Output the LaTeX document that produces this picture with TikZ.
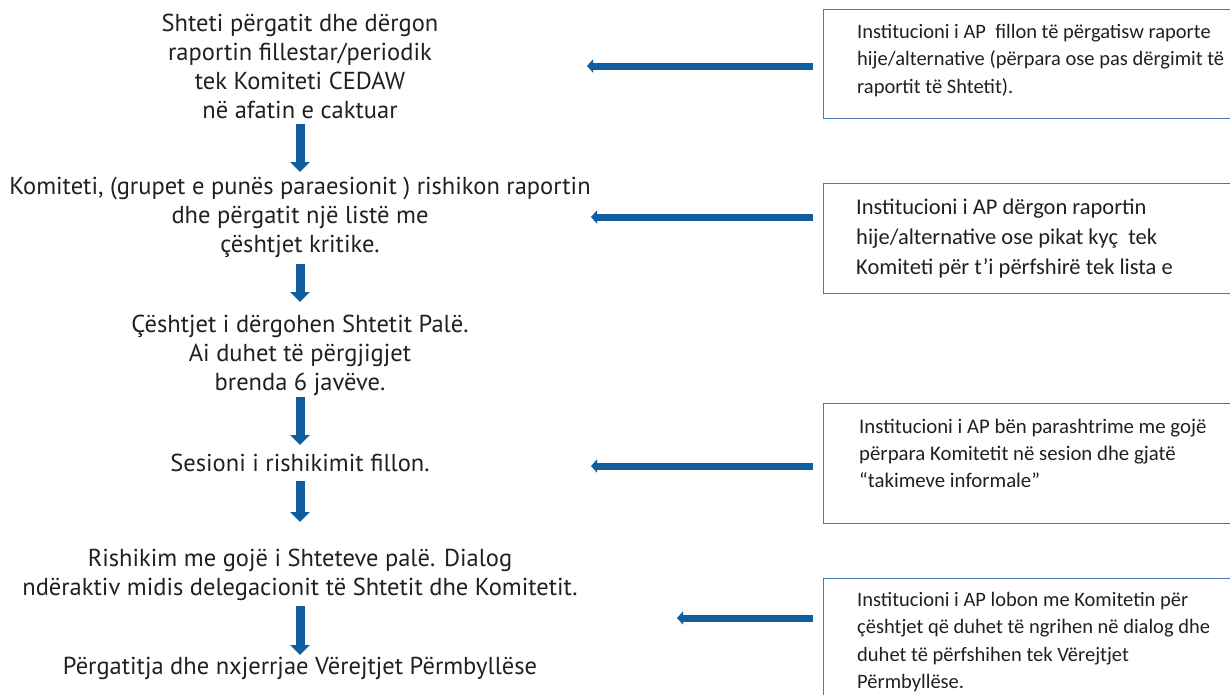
\documentclass[tikz,border=0pt]{standalone}
\usepackage{fontspec}
\setmainfont{PT Sans}
\newfontfamily\boxfont{Carlito}
\usetikzlibrary{arrows.meta}
\definecolor{arrowblue}{RGB}{17,94,158}
\definecolor{boxblue}{RGB}{70,120,185}
\definecolor{ink}{RGB}{35,31,32}
\begin{document}
\begin{tikzpicture}[x=1pt,y=-1pt,
  stepnode/.style={align=center, inner sep=0pt, text=ink, font=\fontsize{24.5}{29}\selectfont},
  downarrow/.style={draw=arrowblue, line width=9pt, -{Triangle[width=19pt,length=10pt]}},
  harrow/.style={draw=arrowblue, line width=7pt, -{Triangle[width=13pt,length=6pt]}},
  infobox/.style={draw=boxblue, line width=1.3pt, anchor=north west, inner sep=0pt, minimum width=430pt},
  infotext/.style={anchor=north west, align=left, inner sep=0pt, text=ink, font=\boxfont\fontsize{20.5}{27.5}\selectfont}]
\useasboundingbox (0,0) rectangle (1230,694);

% left column
\node[stepnode] (t1) at (300,66) {Shteti përgatit dhe dërgon\\raportin fillestar/periodik\\tek Komiteti CEDAW\\në afatin e caktuar};
\node[stepnode] (t2) at (300,217) {Komiteti, (grupet e punës paraesionit ) rishikon raportin\\dhe përgatit një listë me\\çështjet kritike.};
\node[stepnode] (t3) at (300,355) {Çështjet i dërgohen Shtetit Palë.\\Ai duhet të përgjigjet\\brenda 6 javëve.};
\node[stepnode] (t4) at (300,463) {Sesioni i rishikimit fillon.};
\node[stepnode] (t5) at (300,575) {Rishikim me gojë i Shteteve palë. Dialog\\ndëraktiv midis delegacionit të Shtetit dhe Komitetit.};
\node[stepnode] (t6) at (300,668) {Përgatitja dhe nxjerrjae Vërejtjet Përmbyllëse};

\draw[downarrow, shorten <=58pt, shorten >=45pt] (t1.center) -- (t2.center);
\draw[downarrow, shorten <=47pt, shorten >=53pt] (t2.center) -- (t3.center);
\draw[downarrow, shorten <=42pt, shorten >=18pt] (t3.center) -- (t4.center);
\draw[downarrow, shorten <=18pt, shorten >=53pt] (t4.center) -- (t5.center);
\draw[downarrow, shorten <=31pt, shorten >=13pt] (t5.center) -- (t6.center);

% right boxes
\node[infobox, minimum height=109pt] (b1) at (823,9) {};
\node[infobox, minimum height=110pt] (b2) at (823,183) {};
\node[infobox, minimum height=120pt] (b3) at (823,403) {};
\node[infobox, minimum height=130pt] (b4) at (823,578) {};

\node[infotext] (b1t) at (857,24) {Institucioni i AP\ \ fillon të përgatisw raporte\\hije/alternative (përpara ose pas dërgimit të\\raportit të Shtetit).};
\node[infotext, font=\boxfont\fontsize{22.5}{30}\selectfont] (b2t) at (856,198.5) {Institucioni i AP dërgon raportin\\hije/alternative ose pikat kyç\ \ tek\\Komiteti për t’i përfshirë tek lista e};
\node[infotext, font=\boxfont\fontsize{20.8}{27}\selectfont] (b3t) at (859,418.5) {Institucioni i AP bën parashtrime me gojë\\përpara Komitetit në sesion dhe gjatë\\“takimeve informale”};
\node[infotext, font=\boxfont\fontsize{20.5}{27.3}\selectfont] (b4t) at (857,592) {Institucioni i AP lobon me Komitetin për\\çështjet që duhet të ngrihen në dialog dhe\\duhet të përfshihen tek Vërejtjet\\Përmbyllëse.};

% horizontal arrows
\coordinate (h1) at (587,66);
\coordinate (h2) at (591,217);
\coordinate (h3) at (591,466);
\coordinate (h4) at (677,618);
\draw[harrow, shorten <=10pt] (b1.west |- h1) -- (h1);
\draw[harrow, shorten <=10pt] (b2.west |- h2) -- (h2);
\draw[harrow, shorten <=10pt] (b3.west |- h3) -- (h3);
\draw[harrow, shorten <=10pt] (b4.west |- h4) -- (h4);
\end{tikzpicture}
\end{document}
